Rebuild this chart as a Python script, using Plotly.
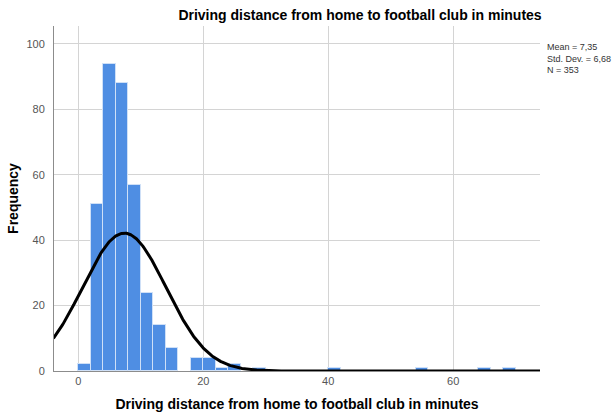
import numpy as np
import plotly.graph_objects as go

# Histogram bins (minutes): left edge of each 2-minute bin and its frequency
bin_starts = [0, 2, 4, 6, 8, 10, 12, 14, 18, 20, 22, 24, 28, 40, 54, 64, 68]
counts = [2, 51, 94, 88, 57, 24, 14, 7, 4, 4, 1, 2, 1, 1, 1, 1, 1]
bin_width = 2

# Summary statistics
mean_val = 7.35
sd_val = 6.68
n_val = 353

x_ticks = [0, 20, 40, 60]
y_ticks = [0, 20, 40, 60, 80, 100]

title_text = "Driving distance from home to football club in minutes"

centers = [s + bin_width / 2 for s in bin_starts]

# Normal curve scaled to the histogram frequencies
xs = np.linspace(-4, 74, 600)
ys = n_val * bin_width / (sd_val * np.sqrt(2 * np.pi)) * np.exp(-0.5 * ((xs - mean_val) / sd_val) ** 2)

fig = go.Figure()
fig.add_trace(go.Bar(
    x=centers, y=counts, width=bin_width,
    marker=dict(color="#4f8ee3", line=dict(color="#cfe0f7", width=1)),
    hoverinfo="x+y",
))
fig.add_trace(go.Scatter(
    x=xs, y=ys, mode="lines",
    line=dict(color="black", width=3),
    hoverinfo="skip",
))

grid = "#d4d4d4"
axis_col = "#8c8c8c"
tick_font = dict(family="Arial, Liberation Sans, sans-serif", size=11, color="#555555")
bold_font = dict(family="Arial, Liberation Sans, sans-serif", size=14, color="black")

stats_text = "<br>".join([
    "Mean = " + f"{mean_val:.2f}".replace(".", ","),
    "Std. Dev. = " + f"{sd_val:.2f}".replace(".", ","),
    f"N = {n_val}",
])

fig.update_layout(
    width=614, height=415,
    margin=dict(l=54, r=74, t=26, b=44),
    paper_bgcolor="white", plot_bgcolor="white",
    showlegend=False,
    bargap=0,
    title=dict(text="<b>" + title_text + "</b>", font=bold_font,
               xref="container", yref="container",
               x=360 / 614, xanchor="center", y=1 - 15 / 415, yanchor="middle"),
    xaxis=dict(range=[-3.9, 73.9], tickvals=x_ticks, showgrid=True, gridcolor=grid,
               gridwidth=1, zeroline=False, showline=True, linecolor=axis_col,
               linewidth=1, ticks="", tickfont=tick_font, automargin=False,
               title=dict(text="<b>" + title_text + "</b>", font=bold_font, standoff=12)),
    yaxis=dict(range=[0, 105.5], tickvals=y_ticks, showgrid=True, gridcolor=grid,
               gridwidth=1, zeroline=False, showline=True, linecolor=axis_col,
               linewidth=1, ticks="", tickfont=tick_font, ticklabelstandoff=6,
               automargin=False,
               title=dict(text="<b>Frequency</b>", font=bold_font, standoff=4)),
    annotations=[dict(
        text=stats_text,
        xref="paper", yref="paper", x=1.01, y=(371 - 40) / 345,
        xanchor="left", yanchor="top", align="left", showarrow=False,
        font=dict(family="Arial, Liberation Sans, sans-serif", size=9, color="#333333"),
    )],
)

fig.write_html("out.html")
